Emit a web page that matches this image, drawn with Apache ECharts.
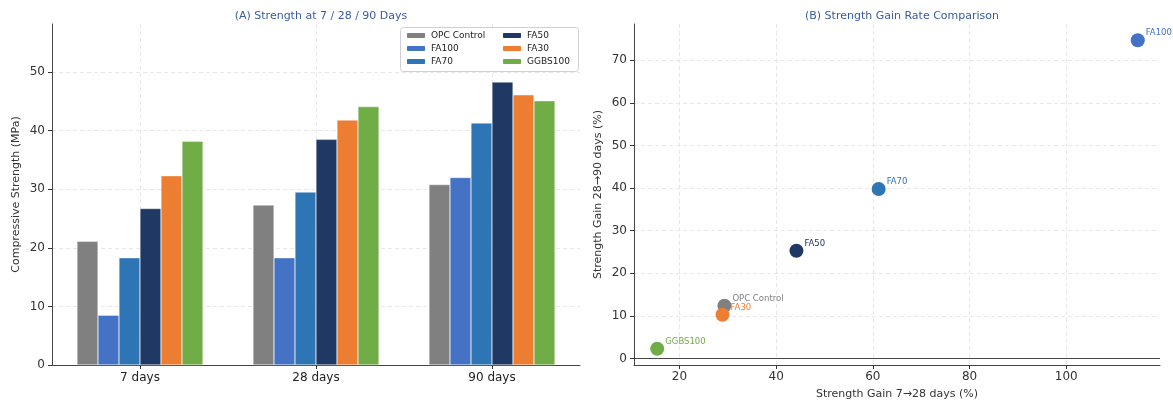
<!DOCTYPE html>
<html>
<head>
<meta charset="utf-8">
<script src="https://cdn.jsdelivr.net/npm/echarts@6/dist/echarts.min.js"></script>
<style>
html,body{margin:0;padding:0;background:#fff;}
#main{width:1173px;height:406px;}
</style>
</head>
<body>
<div id="main"></div>
<script>
// data
var categories = ['7 days', '28 days', '90 days'];
var mixes = ['OPC Control', 'FA100', 'FA70', 'FA50', 'FA30', 'GGBS100'];
var strength7 = [21.1, 8.5, 18.3, 26.7, 32.3, 38.2];
var strength28 = [27.3, 18.3, 29.5, 38.5, 41.8, 44.1];
var strength90 = [30.8, 32.0, 41.3, 48.3, 46.1, 45.1];
var gain7to28 = [29.3, 114.8, 61.2, 44.2, 28.9, 15.4];
var gain28to90 = [12.4, 74.7, 39.8, 25.3, 10.3, 2.3];
var leftTicks = [0, 10, 20, 30, 40, 50];
var gainXTicks = [20, 40, 60, 80, 100];
var gainYTicks = [0, 10, 20, 30, 40, 50, 60, 70];

var colors = ['#808080', '#4472C4', '#2E75B6', '#1F3864', '#ED7D31', '#70AD47'];
var font = 'DejaVu Sans';
var titleColor = '#3A5BA0';
var gridLine = {show: true, lineStyle: {color: '#e2e2e2', type: [4, 3], width: 0.8}};
var axLine = {show: true, onZero: false, lineStyle: {color: '#444', width: 1}};

var myChart = echarts.init(document.getElementById('main'), null, {renderer: 'canvas'});

var series = [];
// bars, one series per mix
for (var i = 0; i < mixes.length; i++) {
    series.push({
        name: mixes[i],
        type: 'bar',
        xAxisIndex: 0,
        yAxisIndex: 0,
        barWidth: 21,
        barGap: '0%',
        itemStyle: {color: colors[i], borderColor: '#fff', borderWidth: 0.4},
        data: [strength7[i], strength28[i], strength90[i]]
    });
}
// scatter, one point per mix
for (var j = 0; j < mixes.length; j++) {
    var s = {
        name: mixes[j],
        type: 'scatter',
        xAxisIndex: 2,
        yAxisIndex: 1,
        symbolSize: 14,
        itemStyle: {color: colors[j], opacity: 1},
        label: {
            show: true,
            position: [15, 0],
            align: 'left',
            verticalAlign: 'middle',
            formatter: mixes[j],
            color: colors[j],
            fontSize: 8.5,
            fontFamily: font
        },
        data: [[gain7to28[j], gain28to90[j]]]
    };
    if (j === 0) {
        // horizontal reference line at 0
        s.markLine = {
            silent: true,
            symbol: 'none',
            label: {show: false},
            lineStyle: {color: '#333', type: 'solid', width: 0.9},
            data: [{yAxis: 0}]
        };
    }
    series.push(s);
}

var option = {
    backgroundColor: '#fff',
    animation: false,
    color: colors,
    title: [
        {text: '(A) Strength at 7 / 28 / 90 Days', left: 316, top: 6, textAlign: 'center',
            textStyle: {color: titleColor, fontSize: 11, fontWeight: 'normal', fontFamily: font}},
        {text: '(B) Strength Gain Rate Comparison', left: 897, top: 6, textAlign: 'center',
            textStyle: {color: titleColor, fontSize: 11, fontWeight: 'normal', fontFamily: font}}
    ],
    legend: [
        {data: mixes.slice(0, 3), orient: 'vertical', left: 405, top: 31, itemWidth: 20, itemHeight: 7,
            itemGap: 4, padding: 0, textStyle: {fontSize: 9, color: '#222', fontFamily: font}},
        {data: mixes.slice(3, 6), orient: 'vertical', left: 501, top: 31, itemWidth: 20, itemHeight: 7,
            itemGap: 4, padding: 0, textStyle: {fontSize: 9, color: '#222', fontFamily: font}}
    ],
    graphic: [
        {type: 'rect', left: 400, top: 27, shape: {width: 178, height: 44, r: 3},
            style: {fill: '#fff', stroke: '#d0d0d0', lineWidth: 1}, z: 1}
    ],
    grid: [
        {left: 52, right: 593, top: 24, bottom: 41},
        {left: 634, right: 13, top: 24, bottom: 41}
    ],
    xAxis: [
        {type: 'category', gridIndex: 0, data: categories,
            axisLine: axLine, axisTick: {show: true, length: 4, alignWithLabel: true, lineStyle: {color: '#333'}},
            axisLabel: {color: '#222', fontSize: 12, fontFamily: font, margin: 7},
            splitLine: {show: false}},
        // hidden helper axis for vertical grid lines at category centres
        {type: 'value', gridIndex: 0, min: -0.5, max: 2.5, position: 'top',
            axisLine: {show: false, onZero: false}, axisLabel: {show: false},
            axisTick: {show: false, customValues: [0, 1, 2]},
            splitLine: gridLine},
        {type: 'value', gridIndex: 1, min: 10.6, max: 119.4,
            name: 'Strength Gain 7\u219228 days (%)', nameLocation: 'middle', nameGap: 24,
            nameTextStyle: {fontSize: 11, color: '#333', fontFamily: font},
            axisLine: axLine, axisTick: {show: true, length: 4, lineStyle: {color: '#333'}, customValues: gainXTicks},
            axisLabel: {color: '#333', fontSize: 12, fontFamily: font, customValues: gainXTicks, margin: 6},
            splitLine: gridLine}
    ],
    yAxis: [
        {type: 'value', gridIndex: 0, min: 0, max: 58.2,
            name: 'Compressive Strength (MPa)', nameLocation: 'middle', nameGap: 30,
            nameTextStyle: {fontSize: 11, color: '#333', fontFamily: font},
            axisLine: axLine, axisTick: {show: true, length: 4, lineStyle: {color: '#333'}, customValues: leftTicks},
            axisLabel: {color: '#333', fontSize: 12, fontFamily: font, customValues: leftTicks, margin: 7},
            splitLine: gridLine},
        {type: 'value', gridIndex: 1, min: -1.5, max: 78.5,
            name: 'Strength Gain 28\u219290 days (%)', nameLocation: 'middle', nameGap: 30,
            nameTextStyle: {fontSize: 11, color: '#333', fontFamily: font},
            axisLine: axLine, axisTick: {show: true, length: 4, lineStyle: {color: '#333'}, customValues: gainYTicks},
            axisLabel: {color: '#333', fontSize: 12, fontFamily: font, customValues: gainYTicks, margin: 7},
            splitLine: gridLine}
    ],
    series: series
};

myChart.setOption(option);
</script>
</body>
</html>
